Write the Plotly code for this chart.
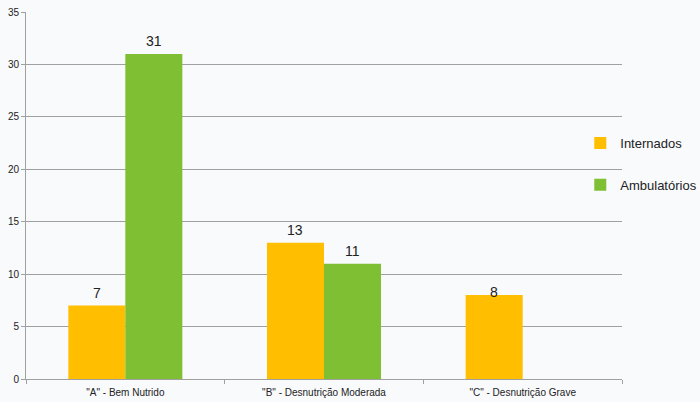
import plotly.graph_objects as go

categories = ['"A" - Bem Nutrido', '"B" - Desnutrição Moderada', '"C" - Desnutrição Grave']
internados = [7, 13, 8]
ambulatorios = [31, 11, None]
label_shift = {"Internados": [13, 13, 3], "Ambulatórios": [13, 13, 13]}

fig = go.Figure()
series = [("Internados", internados, "#ffbf00", -0.5),
          ("Ambulatórios", ambulatorios, "#7fbf34", 0.5)]
for name, vals, color, side in series:
    fig.add_trace(go.Bar(x=categories, y=vals, name=name, marker_color=color,
                         marker_line_width=0, legendgroup=name))

# value labels over bars
for name, vals, color, side in series:
    for i, (c, v) in enumerate(zip(categories, vals)):
        if v is None:
            continue
        fig.add_annotation(x=i + side * 0.287, y=v, text=str(v), showarrow=False,
                           xref="x", yref="y", yshift=label_shift[name][i],
                           font=dict(size=14, color="#222222"))

fig.update_layout(
    width=700, height=402,
    margin=dict(l=26, r=78, t=12, b=23, autoexpand=False),
    paper_bgcolor="#f9fafc", plot_bgcolor="#f9fafc",
    barmode="group", bargap=0.426, bargroupgap=0,
    font=dict(family="Liberation Sans, Arial, sans-serif", color="#222222"),
    showlegend=True,
    legend=dict(x=0.93, y=0.684, xanchor="left", yanchor="top",
                font=dict(size=13), bgcolor="rgba(0,0,0,0)",
                tracegroupgap=22, itemwidth=30),
)
fig.update_xaxes(showgrid=False, showline=True, linecolor="#a0a0a0", linewidth=1,
                 ticks="outside", tickson="boundaries", ticklen=4, tickcolor="#a0a0a0",
                 tickfont=dict(size=10), ticklabelstandoff=4, zeroline=False)
fig.update_yaxes(range=[0, 35], dtick=5, showgrid=True, gridcolor="#a0a0a0", gridwidth=1,
                 showline=True, linecolor="#a0a0a0", linewidth=1,
                 ticks="outside", ticklen=4, tickcolor="#a0a0a0",
                 tickfont=dict(size=10), zeroline=False)

fig.write_html("out.html")
